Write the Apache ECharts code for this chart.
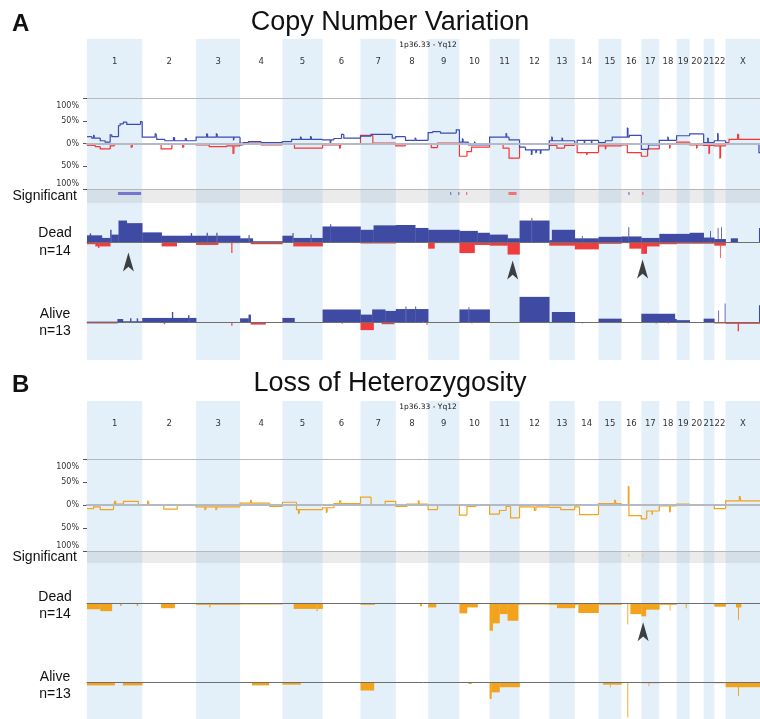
<!DOCTYPE html>
<html>
<head>
<meta charset="utf-8">
<title>Copy Number Variation / Loss of Heterozygosity</title>
<script src="https://cdn.jsdelivr.net/npm/echarts@6.0.0/dist/echarts.min.js"></script>
<style>
  html, body { margin: 0; padding: 0; background: #fff; }
  #chart { width: 760px; height: 719px; }
</style>
</head>
<body>
<div id="chart"></div>
<script>
// chromosomes, hg19 lengths in Mb
const chromNames = ['1','2','3','4','5','6','7','8','9','10','11','12','13','14','15','16','17','18','19','20','21','22','X'];
const chromLengths = [249,243,198,191,181,171,159,146,141,136,135,134,115,107,103,90,81,78,59,63,48,51,155];

// segments: [chromosome, start fraction, end fraction, percent]; later rows override earlier ones
const freqGainA = [
  [1,0,0.09,15],[1,0.09,0.24,12],[1,0.12,0.13,18],[1,0.24,0.33,6],[1,0.33,0.42,3],[1,0.42,0.45,19],[1,0.45,0.57,15],
  [1,0.57,0.6,39],[1,0.6,0.66,43],[1,0.66,0.72,47],[1,0.72,0.97,42],[1,0.97,1,48],
  [2,0,0.27,14],[2,0.24,0.26,21],[2,0.27,0.42,9],[2,0.42,1,6],[2,0.58,0.6,13],[2,0.8,0.82,11],
  [3,0,1,14],[3,0.24,0.26,21],[3,0.46,0.48,21],[3,0.85,0.86,8],
  [4,0,0.08,-3],[4,0.08,0.2,2],[4,0.2,0.5,4],[4,0.5,1,2],
  [5,0,0.23,4],[5,0.23,1,9],[5,0.45,0.47,14],[5,0.7,0.72,15],
  [6,0,0.3,8],[6,0.2,0.22,2],[6,0.3,0.5,11],[6,0.5,0.56,20],[6,0.56,1,12],
  [7,0,0.3,16],[7,0.3,0.9,20],[7,0.9,1,12],
  [8,0,0.3,15],[8,0.3,1,7],[8,0.6,0.62,12],
  [9,0,0.15,24],[9,0.15,0.4,26],[9,0.4,0.9,23],[9,0.9,1,30],
  [10,0,0.3,3],[10,0.1,0.12,10],[10,0.3,1,-3],[10,0.5,0.52,3],
  [11,0,0.65,14],[11,0.55,0.57,22],[11,0.65,1,8],
  [12,0,0.2,-8],[12,0.2,1,-14],[12,0.4,0.42,-24],[12,0.55,0.57,-20],[12,0.7,0.72,-22],
  [13,0,1,6],[13,0.1,0.12,14],[13,0.5,0.52,12],
  [14,0,0.1,0],[14,0.1,1,7],[14,0.4,0.42,0],[14,0.7,0.72,0],
  [15,0,0.3,2],[15,0.3,0.6,6],[15,0.6,1,14],
  [16,0,0.4,14],[16,0.3,0.33,34],[16,0.4,1,18],
  [17,0,0.4,-13],[17,0.4,1,-3],
  [18,0,1,7],[18,0.5,0.52,14],
  [19,0,1,17],
  [20,0,1,21],
  [21,0,1,2],[21,0.4,0.42,12],
  [22,0,1,6],[22,0.3,0.33,22],
  [23,0,0.97,0],[23,0.97,1,-20]
];
const freqLossA = [
  [1,0,0.15,-4],[1,0.15,0.24,-7],[1,0.24,0.42,-12],[1,0.42,0.5,-5],[1,0.5,1,-1],[1,0.8,0.82,-8],
  [2,0,0.35,-1],[2,0.35,0.55,-12],[2,0.55,1,-2],[2,0.75,0.77,-8],
  [3,0,0.3,-3],[3,0.3,0.7,-7],[3,0.7,1,-5],[3,0.84,0.86,-22],
  [4,0,0.5,1],[4,0.5,1,-3],
  [5,0,0.3,-1],[5,0.3,1,-10],
  [6,0,0.5,-3],[6,0.45,0.47,-10],[6,0.5,1,-1],
  [7,0,0.35,18],[7,0.35,1,1],
  [8,0,0.3,-5],[8,0.3,1,-1],
  [9,0,0.1,-1],[9,0.1,0.3,-9],[9,0.3,1,1],
  [10,0,0.25,-28],[10,0.25,0.4,-18],[10,0.4,1,-8],
  [11,0,0.45,0],[11,0.45,0.65,-10],[11,0.65,1,-32],
  [12,0,1,0],
  [13,0,1,-4],[13,0.3,0.6,-10],
  [14,0,0.1,-2],[14,0.1,1,-20],[14,0.5,0.52,-24],
  [15,0,1,-5],[15,0.3,0.32,-12],
  [16,0,0.3,-3],[16,0.3,1,-20],
  [17,0,0.35,-28],[17,0.35,1,-12],
  [18,0,1,-2],[18,0.6,0.62,-10],
  [19,0,1,3],
  [20,0,1,-3],[20,0.5,0.52,-10],
  [21,0,1,-4],[21,0.5,0.55,-22],
  [22,0,1,-5],[22,0.5,0.55,-32],
  [23,0,0.1,2],[23,0.1,1,9],[23,0.35,0.38,20]
];
const deadGainA = [
  [1,0,0.27,18],[1,0.05,0.07,23],[1,0.27,0.42,11],[1,0.42,0.57,20],[1,0.42,0.44,33],[1,0.57,0.72,58],[1,0.72,1,51],
  [2,0,0.36,26],[2,0.36,1,17],[2,0.9,0.92,24],
  [3,0,1,17],[3,0.24,0.26,25],[3,0.46,0.48,25],
  [4,0,0.3,10],[4,0.2,0.22,18],[4,0.3,1,2],
  [5,0,0.27,17],[5,0.25,0.27,24],[5,0.27,1,11],[5,0.7,0.72,20],
  [6,0,1,42],[6,0.2,0.22,48],
  [7,0,0.37,33],[7,0.37,1,45],
  [8,0,0.6,46],[8,0.6,1,38],
  [9,0,1,33],
  [10,0,0.6,30],[10,0.6,1,25],
  [11,0,0.6,20],[11,0.6,1,10],
  [12,0,1,58],[12,0.4,0.42,65],
  [13,0,0.1,5],[13,0.1,1,33],
  [14,0,1,10],[14,0.3,0.32,16],
  [15,0,1,14],
  [16,0,1,15],[16,0.35,0.38,40],
  [17,0,1,11],
  [18,0,1,22],
  [19,0,1,22],
  [20,0,1,25],
  [21,0,1,12],[21,0.6,0.65,30],
  [22,0,1,8],[22,0.3,0.33,38],[22,0.6,0.63,40],
  [23,0,0.15,0],[23,0.15,0.35,10],[23,0.35,0.97,0],[23,0.97,1,38]
];
const deadLossA = [
  [1,0,0.15,-6],[1,0.15,0.42,-12],[1,0.2,0.22,-16],[1,0.42,1,-3],
  [2,0,0.36,-3],[2,0.36,0.64,-12],[2,0.64,1,-2],
  [3,0,0.5,-8],[3,0.5,1,-3],[3,0.8,0.82,-30],
  [4,0,0.25,-2],[4,0.25,1,-6],
  [5,0,0.27,-2],[5,0.27,1,-12],
  [6,0,1,-3],
  [7,0,1,-4],
  [8,0,1,-2],
  [9,0,0.2,-18],[9,0.2,1,-3],
  [10,0,0.5,-30],[10,0.5,1,-8],
  [11,0,0.6,-10],[11,0.6,1,-34],
  [12,0,1,-1],
  [13,0,1,-10],
  [14,0,1,-20],
  [15,0,1,-5],
  [16,0,0.4,-3],[16,0.4,1,-18],
  [17,0,0.3,-32],[17,0.3,1,-12],
  [18,0,1,-6],
  [19,0,1,-5],
  [20,0,1,-5],
  [21,0,1,-5],
  [22,0,1,-10],[22,0.5,0.53,-43],
  [23,0,1,-2]
];
const aliveGainA = [
  [1,0,0.55,1],[1,0.55,0.65,8],[1,0.65,0.78,2],[1,0.78,0.8,10],[1,0.8,0.9,2],[1,0.9,0.92,10],[1,0.92,1,2],
  [2,0,1,11],[2,0.55,0.57,27],[2,0.85,0.87,18],
  [4,0,0.2,10],[4,0.2,0.25,20],
  [5,0,0.3,11],
  [6,0,1,34],
  [7,0,0.33,20],[7,0.33,0.7,34],[7,0.7,1,30],
  [8,0,1,35],[8,0.3,0.32,42],[8,0.6,0.62,42],
  [10,0,1,34],[10,0.3,0.32,40],
  [12,0,1,68],
  [13,0.1,1,27],
  [15,0,1,9],
  [17,0,1,22],
  [18,0,0.9,22],[18,0.9,1,8],
  [19,0,1,5],
  [21,0,1,9],
  [22,0.35,0.38,31],[22,0.92,0.95,50],
  [23,0.97,1,45]
];
const aliveLossA = [
  [1,0,0.55,-4],[1,0.55,1,-1],
  [2,0,1,-1],[2,0.4,0.42,-6],
  [3,0.8,0.82,-10],
  [4,0.25,0.6,-7],
  [6,0.5,0.52,-5],
  [7,0,0.37,-22],[7,0.6,0.95,-6],
  [8,0.95,0.97,-8],
  [10,0.4,0.42,-4],
  [13,0,1,-2],
  [14,0.3,0.32,-4],
  [15,0,1,-3],
  [16,0,1,-3],
  [17,0.8,0.82,-5],
  [18,0.5,0.52,-4],
  [22,0,1,-4],
  [23,0,1,-5],[23,0.35,0.38,-25]
];
const freqLohB = [
  [1,0,0.12,-8],[1,0.12,0.24,-4],[1,0.24,0.48,-10],[1,0.48,0.66,2],[1,0.5,0.52,8],[1,0.66,0.93,8],[1,0.93,1,0],
  [2,0,0.4,1],[2,0.1,0.12,8],[2,0.4,0.65,-9],
  [3,0,1,-4],[3,0.2,0.22,-10],[3,0.45,0.47,-10],
  [4,0,0.7,4],[4,0.25,0.27,10],[4,0.7,1,-3],
  [5,0,0.35,6],[5,0.35,1,-10],[5,0.4,0.42,-18],
  [6,0,0.3,-6],[6,0.1,0.12,-16],[6,0.3,1,3],[6,0.45,0.48,9],
  [7,0,0.3,17],[7,0.7,1,8],
  [8,0,0.35,-3],[8,0.35,1,2],[8,0.7,0.72,9],
  [9,0,0.3,-10],
  [10,0,0.25,-22],[10,0.25,0.55,-3],
  [11,0,0.33,-20],[11,0.33,0.55,-12],[11,0.55,0.7,-3],[11,0.7,1,-28],
  [12,0,1,-4],[12,0.5,0.55,-12],
  [13,0,0.45,-5],[13,0.45,1,-10],
  [14,0,0.2,-4],[14,0.2,1,-21],
  [15,0,1,3],[15,0.7,0.75,10],
  [16,0.35,0.38,40],[16,0.38,1,-23],
  [17,0,0.3,-30],[17,0.3,1,-13],[17,0.6,0.62,-20],
  [18,0,1,-2],[18,0.6,0.63,-15],
  [19,0,1,2],
  [22,0,1,-8],
  [23,0,1,9],[23,0.4,0.43,18]
];
const deadLohB = [
  [1,0,0.24,-17],[1,0.24,0.45,-22],[1,0.45,1,-1],[1,0.6,0.62,-8],[1,0.9,0.92,-8],
  [2,0,0.35,-1],[2,0.35,0.6,-14],[2,0.6,1,-1],
  [3,0,1,-5],[3,0.3,0.32,-12],
  [4,0,1,-4],
  [5,0,0.28,-1],[5,0.28,1,-16],[5,0.85,0.87,-22],
  [6,0,1,-1],
  [7,0,0.4,-5],[7,0.4,1,-1],
  [8,0,1,-2],[8,0.75,0.8,-9],
  [9,0,0.25,-12],[9,0.25,1,-1],
  [10,0,0.25,-28],[10,0.25,0.6,-12],[10,0.6,1,-2],
  [11,0,0.1,-75],[11,0.1,0.33,-55],[11,0.33,0.6,-30],[11,0.6,0.95,-48],[11,0.95,1,-5],
  [12,0,1,-4],
  [13,0,0.3,-5],[13,0.3,1,-14],
  [14,0,0.15,-5],[14,0.15,1,-27],
  [15,0,1,-5],
  [16,0,0.3,-2],[16,0.3,0.33,-58],[16,0.45,1,-30],
  [17,0,0.25,-36],[17,0.25,1,-18],
  [18,0,1,-5],[18,0.6,0.63,-20],
  [19,0,1,-2],[19,0.7,0.75,-14],
  [22,0,1,-10],
  [23,0,1,-2],[23,0.3,0.45,-12],[23,0.36,0.38,-45]
];
const aliveLohB = [
  [1,0,0.5,-8],[1,0.5,0.65,-1],[1,0.65,1,-8],
  [2,0,1,-1],
  [3,0,1,-1],
  [4,0,0.28,-1],[4,0.28,0.68,-8],[4,0.68,1,-1],
  [5,0,0.45,-6],[5,0.45,1,-1],
  [6,0,1,-1],
  [7,0,0.38,-22],[7,0.38,1,-1],
  [8,0,1,-1],
  [9,0,1,-1],
  [10,0.3,0.4,-4],
  [11,0,0.06,-45],[11,0.06,0.33,-27],[11,0.33,1,-13],
  [12,0,1,-1],
  [13,0,1,-1],
  [14,0,1,-1],
  [15,0.2,1,-6],[15,0.5,0.52,-14],
  [16,0.3,0.33,-96],
  [17,0,1,-2],[17,0.4,0.42,-10],
  [22,0,1,-2],
  [23,0,1,-13],[23,0.36,0.38,-36]
];
// significant regions: [chromosome, start fraction, end fraction, kind]
const sigA = [[1,0.56,0.98,'gain'],[9,0.7,0.72,'gain'],[9,0.96,0.98,'gain'],[10,0.22,0.24,'loss'],[11,0.63,0.9,'loss'],[16,0.35,0.37,'gain'],[17,0.05,0.1,'loss']];
const sigB = [[16,0.35,0.37,'loh'],[17,0.08,0.14,'loh']];
// arrowheads under the Dead track: [chromosome, fraction, percent]
const arrowsA = [[1,0.75,-54],[11,0.77,-76],[17,0.07,-73]];
const arrowsB = [[17,0.1,-78]];

const colors = {
  band: '#e3f0fa', gainLine: '#3b4bb3', lossLine: '#f83535', gainFill: '#3f4ba3', lossFill: '#f03c3c',
  loh: '#f2a31b', sig: { gain: '#7475cf', loss: '#f27272', loh: '#f5c98a' }
};

const chromStart = [];
chromLengths.reduce((acc, l, i) => { chromStart[i] = acc; return acc + l; }, 0);
const genomeTotal = chromLengths.reduce((a, b) => a + b, 0);
const pos = (c, f) => chromStart[c - 1] + f * chromLengths[c - 1];

// flatten overlapping segments into consecutive steps [start, end, value, previous value]
function toSteps(segs) {
  const abs = segs.map(s => [pos(s[0], s[1]), pos(s[0], s[2]), s[3]]);
  const br = Array.from(new Set(abs.flatMap(s => [s[0], s[1]]).concat([0, genomeTotal]))).sort((a, b) => a - b);
  const steps = [];
  for (let i = 0; i < br.length - 1; i++) {
    const a = br[i], b = br[i + 1], m = (a + b) / 2;
    if (b - a < 1e-6) continue;
    let v = 0;
    abs.forEach(s => { if (s[0] <= m && m < s[1]) v = s[2]; });
    const last = steps[steps.length - 1];
    if (last && last[2] === v) last[1] = b;
    else steps.push([a, b, v, last ? last[2] : v]);
  }
  return steps;
}

const chart = echarts.init(document.getElementById('chart'));

const sigGrid = { show: true, backgroundColor: 'rgba(165,165,165,0.22)', borderWidth: 0, z: 1 };
const grids = [
  { top: 39, height: 321 }, { top: 98, height: 91 }, Object.assign({ top: 189, height: 14 }, sigGrid),
  { top: 205, height: 74 }, { top: 285, height: 74 },
  { top: 401, height: 318 }, { top: 459, height: 92 }, Object.assign({ top: 551, height: 12 }, sigGrid),
  { top: 566, height: 74 }, { top: 646, height: 74 }
].map(g => Object.assign({ left: 87, right: 0 }, g));

const freqGrids = [1, 6], trackGrids = [3, 4, 8, 9];
const xAxes = grids.map((g, i) => ({
  gridIndex: i, type: 'value', min: 0, max: genomeTotal,
  show: freqGrids.includes(i) || trackGrids.includes(i),
  axisLabel: { show: false }, axisTick: { show: false }, splitLine: { show: false },
  z: 5,
  axisLine: {
    show: true, onZero: true,
    lineStyle: freqGrids.includes(i) ? { color: '#b3bac6', width: 2 } : { color: '#6e6e6e', width: 1 }
  }
}));
const pctLabel = { fontSize: 8, fontFamily: 'DejaVu Sans', color: '#333' };
const yAxes = grids.map((g, i) => {
  if (freqGrids.includes(i)) {
    return {
      gridIndex: i, type: 'value', min: -100, max: 100, interval: 50,
      axisLine: { show: false }, splitLine: { show: false },
      axisTick: { show: true, length: 4, lineStyle: { color: '#555' } },
      axisLabel: {
        margin: 8,
        formatter: v => v === 100 ? '{t|100%}' : v === -100 ? '{b|100%}' : '{n|' + Math.abs(v) + '%}',
        rich: {
          t: Object.assign({ padding: [15, 0, 0, 0] }, pctLabel),
          b: Object.assign({ padding: [0, 0, 10, 0] }, pctLabel),
          n: pctLabel
        }
      }
    };
  }
  if (trackGrids.includes(i)) return { gridIndex: i, type: 'value', min: -100, max: 100, show: false };
  return { gridIndex: i, type: 'value', min: 0, max: 1, show: false };
});

const bandSeries = gi => ({
  type: 'custom', xAxisIndex: gi, yAxisIndex: gi, z: 0, silent: true,
  data: chromLengths.map((l, i) => [chromStart[i], chromStart[i] + l]),
  renderItem: (params, api) => {
    const i = params.dataIndex, cs = params.coordSys;
    const p0 = api.coord([api.value(0), 0]), p1 = api.coord([api.value(1), 0]);
    const children = [];
    if (i % 2 === 0) children.push({ type: 'rect', shape: { x: p0[0], y: cs.y, width: p1[0] - p0[0], height: cs.height }, style: { fill: colors.band } });
    children.push({
      type: 'text', x: (p0[0] + p1[0]) / 2, y: cs.y + 23,
      style: { text: chromNames[i], font: '8.5px "DejaVu Sans"', fill: '#333', align: 'center', verticalAlign: 'middle', textAlign: 'center', textVerticalAlign: 'middle' }
    });
    return { type: 'group', children };
  }
});

const sigSeries = (gi, list) => ({
  type: 'custom', xAxisIndex: gi, yAxisIndex: gi, z: 3, silent: true,
  data: list.map(s => [pos(s[0], s[1]), pos(s[0], s[2])]),
  renderItem: (params, api) => {
    const cs = params.coordSys;
    const p0 = api.coord([api.value(0), 0]), p1 = api.coord([api.value(1), 0]);
    return { type: 'rect', shape: { x: p0[0], y: cs.y + 3, width: Math.max(1.2, p1[0] - p0[0]), height: 3 }, style: { fill: colors.sig[list[params.dataIndex][3]] } };
  }
});

const limitLines = {
  silent: true, symbol: 'none', label: { show: false },
  lineStyle: { color: '#b8b8b8', width: 1, type: 'solid' },
  data: [{ yAxis: 100 }, { yAxis: -100 }]
};
// step line: each step draws the riser from the previous value and its flat run
const freqLine = (gi, segs, color, withLimits) => ({
  type: 'custom', xAxisIndex: gi, yAxisIndex: gi, silent: true, z: 4,
  data: toSteps(segs),
  renderItem: (params, api) => {
    const a = api.value(0), b = api.value(1), v = api.value(2), pv = api.value(3);
    return {
      type: 'polyline',
      shape: { points: [api.coord([a, pv]), api.coord([a, v]), api.coord([b, v])] },
      style: { stroke: color, lineWidth: 1.2, fill: null }
    };
  },
  markLine: withLimits ? limitLines : undefined
});
// filled step bars from the baseline
const trackArea = (gi, segs, color) => ({
  type: 'custom', xAxisIndex: gi, yAxisIndex: gi, silent: true, z: 4,
  data: toSteps(segs).filter(s => s[2] !== 0),
  renderItem: (params, api) => {
    const p0 = api.coord([api.value(0), 0]), p1 = api.coord([api.value(1), api.value(2)]);
    return {
      type: 'rect',
      shape: { x: p0[0], y: Math.min(p0[1], p1[1]), width: Math.max(0.8, p1[0] - p0[0] + 0.3), height: Math.abs(p1[1] - p0[1]) },
      style: { fill: color }
    };
  }
});
const arrowSeries = (gi, list) => ({
  type: 'scatter', xAxisIndex: gi, yAxisIndex: gi, silent: true, z: 6,
  symbol: 'path://M10,0 L20,28 L10,21 L0,28 Z', symbolSize: [11, 19],
  itemStyle: { color: '#111' },
  data: list.map(a => [pos(a[0], a[1]), a[2]])
});

const textItem = (text, x, y, font, align) => ({
  type: 'text', x, y, silent: true, z: 20,
  style: { text, font, fill: '#111', align, verticalAlign: 'middle', textAlign: align, textVerticalAlign: 'middle' }
});
const big = '27px "Liberation Sans", Arial', side = '14px "Liberation Sans", Arial', tiny = '7.5px "DejaVu Sans"';

chart.setOption({
  animation: false,
  grid: grids,
  xAxis: xAxes,
  yAxis: yAxes,
  graphic: [
    textItem('A', 12, 24, 'bold 24px "Liberation Sans", Arial', 'left'),
    textItem('Copy Number Variation', 390, 23, big, 'center'),
    textItem('1p36.33 - Yq12', 428, 45, tiny, 'center'),
    textItem('Significant', 77, 196, side, 'right'),
    textItem('Dead', 55, 233, side, 'center'),
    textItem('n=14', 55, 251, side, 'center'),
    textItem('Alive', 55, 314, side, 'center'),
    textItem('n=13', 55, 331, side, 'center'),
    textItem('B', 12, 385, 'bold 24px "Liberation Sans", Arial', 'left'),
    textItem('Loss of Heterozygosity', 390, 384, big, 'center'),
    textItem('1p36.33 - Yq12', 428, 407, tiny, 'center'),
    textItem('Significant', 77, 557, side, 'right'),
    textItem('Dead', 55, 597, side, 'center'),
    textItem('n=14', 55, 614, side, 'center'),
    textItem('Alive', 55, 677, side, 'center'),
    textItem('n=13', 55, 694, side, 'center')
  ],
  series: [
    bandSeries(0),
    freqLine(1, freqLossA, colors.lossLine, false),
    freqLine(1, freqGainA, colors.gainLine, true),
    sigSeries(2, sigA),
    trackArea(3, deadLossA, colors.lossFill),
    trackArea(3, deadGainA, colors.gainFill),
    arrowSeries(3, arrowsA),
    trackArea(4, aliveLossA, colors.lossFill),
    trackArea(4, aliveGainA, colors.gainFill),
    bandSeries(5),
    freqLine(6, freqLohB, colors.loh, true),
    sigSeries(7, sigB),
    trackArea(8, deadLohB, colors.loh),
    arrowSeries(8, arrowsB),
    trackArea(9, aliveLohB, colors.loh)
  ]
});
</script>
</body>
</html>
